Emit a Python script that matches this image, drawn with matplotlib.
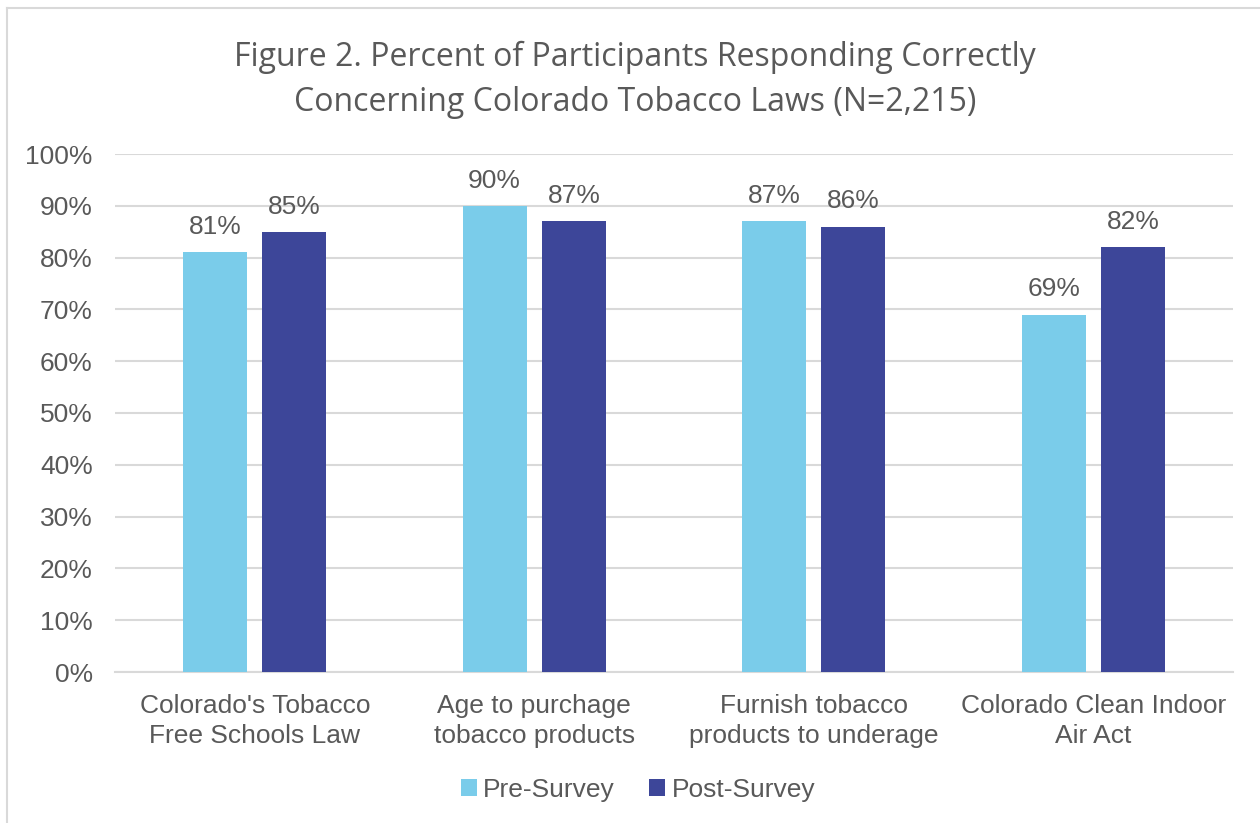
import matplotlib
matplotlib.use("Agg")
import matplotlib.pyplot as plt
from matplotlib.lines import Line2D
import numpy as np

categories = ["Colorado's Tobacco\nFree Schools Law",
              "Age to purchage\ntobacco products",
              "Furnish tobacco\nproducts to underage",
              "Colorado Clean Indoor\nAir Act"]
series_names = ["Pre-Survey", "Post-Survey"]
pre_survey = [81, 90, 87, 69]
post_survey = [85, 87, 86, 82]
y_ticks = [0, 10, 20, 30, 40, 50, 60, 70, 80, 90, 100]

title_text = ("Figure 2. Percent of Participants Responding Correctly\n"
              "Concerning Colorado Tobacco Laws (N=2,215)")

PRE_COLOR = "#7ACCEA"
POST_COLOR = "#3D4699"
TEXT_COLOR = "#595959"
GRID_COLOR = "#D9D9D9"
SANS = ["Liberation Sans", "DejaVu Sans"]
FS = 19

fig = plt.figure(figsize=(12.6, 8.23), dpi=100)
fig.patch.set_facecolor("white")

# chart frame edges (top and left)
fig.add_artist(Line2D([6.5 / 1260, 6.5 / 1260], [0, 1 - 8 / 823],
                      transform=fig.transFigure, color=GRID_COLOR, lw=1.5))
fig.add_artist(Line2D([6.5 / 1260, 1], [1 - 8 / 823, 1 - 8 / 823],
                      transform=fig.transFigure, color=GRID_COLOR, lw=1.5))

ax = fig.add_axes([115 / 1260, 1 - 672 / 823, (1233 - 115) / 1260, (672 - 154) / 823])

x = np.arange(len(categories))
width = 0.229
offset = 0.1416
bars_pre = ax.bar(x - offset, pre_survey, width, color=PRE_COLOR, label=series_names[0], zorder=3)
bars_post = ax.bar(x + offset, post_survey, width, color=POST_COLOR, label=series_names[1], zorder=3)

for bars, vals in ((bars_pre, pre_survey), (bars_post, post_survey)):
    for b, v in zip(bars, vals):
        ax.annotate(f"{v}%", (b.get_x() + b.get_width() / 2, v),
                    xytext=(0, 9.5), textcoords="offset points",
                    ha="center", va="bottom", fontsize=FS,
                    color=TEXT_COLOR, family=SANS)

ax.set_xlim(-0.5, len(categories) - 0.5)
ax.set_ylim(0, 100)
ax.set_yticks(y_ticks)
ax.set_yticklabels([f"{t}%" for t in y_ticks], fontsize=FS, color=TEXT_COLOR, family=SANS)
ax.set_xticks(x)
ax.set_xticklabels(categories, fontsize=FS, color=TEXT_COLOR, family=SANS, linespacing=1.32)
ax.tick_params(axis="both", length=0)
ax.tick_params(axis="y", pad=16)
ax.tick_params(axis="x", pad=16)
ax.yaxis.grid(True, color=GRID_COLOR, lw=1.5, zorder=0)
ax.set_axisbelow(True)
for s in ("top", "right", "left"):
    ax.spines[s].set_visible(False)
ax.spines["bottom"].set_color(GRID_COLOR)
ax.spines["bottom"].set_linewidth(1.5)

fig.text(635 / 1260, 1 - 80 / 823, title_text, ha="center", va="center",
         fontsize=23, color=TEXT_COLOR, family=["Open Sans", "DejaVu Sans"],
         linespacing=1.45)

leg = fig.legend(handles=[bars_pre, bars_post], labels=series_names,
                 loc="center", bbox_to_anchor=(638 / 1260, 1 - 790 / 823),
                 ncol=2, frameon=False, handlelength=0.6, handleheight=0.6,
                 handletextpad=0.25, columnspacing=1.3,
                 prop={"family": SANS, "size": FS})
for t in leg.get_texts():
    t.set_color(TEXT_COLOR)

fig.savefig("out.png", dpi=100, facecolor="white")
